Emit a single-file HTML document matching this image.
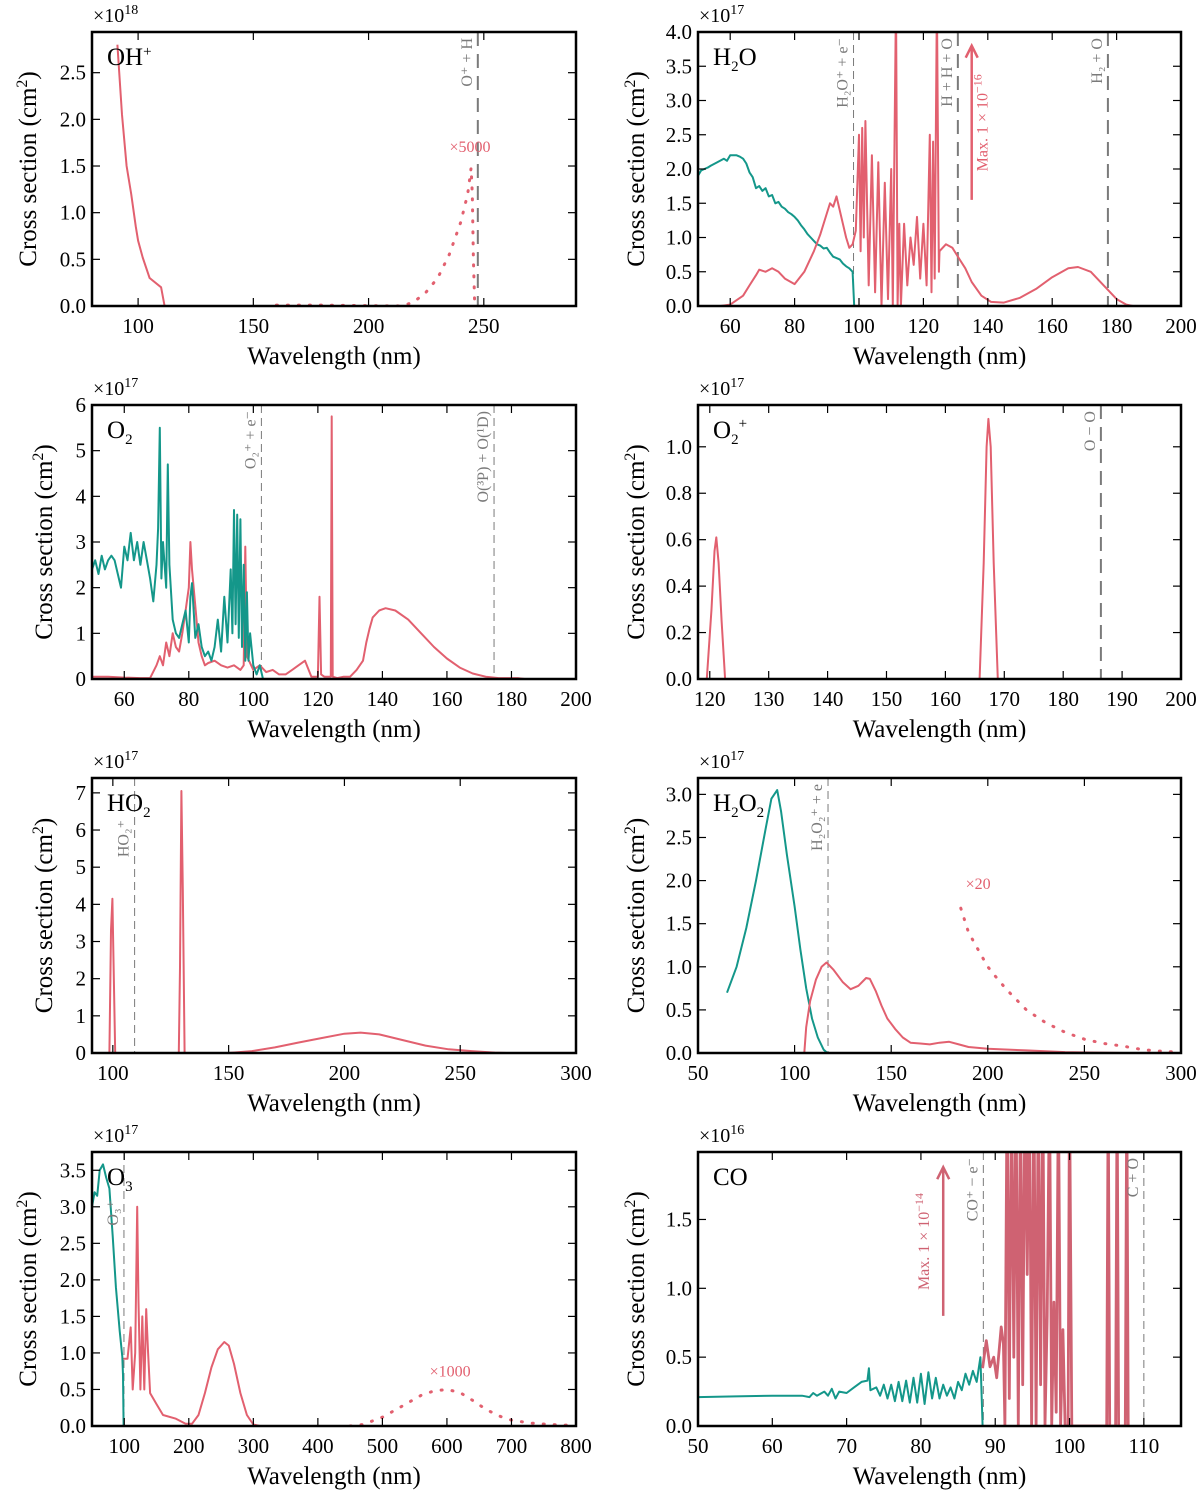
<!DOCTYPE html>
<html><head><meta charset="utf-8">
<style>
html,body{margin:0;padding:0;background:#fff;}
svg{display:block;font-family:"Liberation Serif","DejaVu Serif",serif;}
</style></head>
<body>
<svg id="fig" width="1200" height="1494" viewBox="0 0 1200 1494" xmlns="http://www.w3.org/2000/svg"></svg>
<script>
// ---- Data (values in units of the panel's multiplier) ----
// OH+
const ohpX = [91,93,95,97,99,100,102,105,110,111.5];
const ohpY = [2.8,2.05,1.5,1.2,0.85,0.7,0.52,0.3,0.2,0];
const ohpDotX = [160,170,180,215,220,225,230,235,240,243,244.5,245,245.5,246];
const ohpDotY = [0.01,0.01,0.01,0,0.05,0.15,0.3,0.55,0.9,1.2,1.48,1.2,0.5,0.05];
// H2O
const h2oIonX = [50,51,52,53,54,56,58,59,60,62,63,64,65,66,67,68,69,70,71,72,73,74,75,76,77,78,79,80,81,82,83,84,85,86,87,88,89,90,91,92,93,94,95,96,97,98,98.5];
const h2oIonY = [1.9,1.98,2.0,2.02,2.05,2.1,2.15,2.12,2.2,2.2,2.18,2.15,2.08,1.95,1.88,1.72,1.75,1.68,1.72,1.6,1.62,1.5,1.52,1.45,1.42,1.37,1.34,1.3,1.25,1.18,1.12,1.05,1.0,0.95,0.9,0.88,0.84,0.85,0.78,0.72,0.7,0.68,0.62,0.58,0.55,0.5,0];
const h2oDisX = [57,60,64,66,68,69,71,73,75,77,80,83,86,88,90,91,92,93,94,95,96,97,98,99,100,100.5,101,101.5,102,103,104,105,106,107,108,109,110,110.5,111.5,112,112.5,113,114,115,116,117,118,119,120,121,122,122.5,123,123.5,124.2,124.8,125,127,129,131,133,135,138,141,145,150,155,160,165,168,172,176,180,183,185];
const h2oDisY = [0,0.02,0.15,0.3,0.45,0.53,0.5,0.55,0.5,0.4,0.32,0.5,0.8,1.05,1.35,1.5,1.45,1.6,1.4,1.2,1.0,0.85,0.9,1.1,2.5,0.8,2.6,1.0,2.7,0.3,2.2,0.2,2.1,0,1.8,0.1,2.0,0,4.5,0,1.2,0,1.2,0.3,1.0,0.6,1.3,0.4,1.2,0.3,2.5,0.2,2.4,0.4,4.5,0.5,0.8,0.9,0.85,0.7,0.55,0.35,0.15,0.06,0.05,0.12,0.25,0.42,0.55,0.57,0.5,0.3,0.1,0.02,0];
// O2
const o2IonX = [50,51,52,53,54,55,56,57,58,59,60,61,62,63,64,65,66,67,68,69,70,70.5,71,71.5,72,73,73.5,74,75,76,77,78,79,80,80.5,81,82,83,84,85,86,87,88,89,90,91,92,93,93.5,94,94.5,95,95.5,96,96.5,97,97.5,98,98.5,99,100,101,102,103];
const o2IonY = [2.4,2.6,2.3,2.7,2.4,2.6,2.7,2.6,2.3,2.0,2.9,2.6,3.2,2.6,3.0,2.5,3.0,2.6,2.2,1.7,2.5,3.3,5.5,2.2,3.0,2.0,4.7,2.5,1.3,1.0,0.9,1.2,1.5,0.8,1.8,2.1,0.9,1.2,0.7,0.5,0.6,0.4,0.7,1.3,0.6,1.8,0.8,2.4,1.0,3.7,1.2,3.6,0.9,3.5,0.7,2.5,0.4,1.9,0.4,1.0,0.3,0.1,0.3,0];
const o2DisX = [50,55,60,65,68,70,71,72,73,74,75,76,77,78,79,80,80.5,81,82,83,84,85,86,88,90,92,94,96,97,97.5,98,100,102,104,106,108,110,112,114,116,118,120,120.5,121,122,124,124.3,124.6,126,128,130,132,134,135,136,137,139,141,144,148,152,156,160,164,168,172,176,180,182,184];
const o2DisY = [0.05,0.05,0.03,0.02,0.02,0.3,0.5,0.3,0.8,0.5,1.0,0.7,0.6,1.0,1.5,2.0,3.0,2.4,1.6,0.8,0.5,0.3,0.35,0.4,0.3,0.25,0.3,0.2,0.3,2.9,0.5,0.2,0.3,0.15,0.2,0.1,0.1,0.2,0.3,0.4,0.05,0.05,1.8,0.1,0.05,0.05,5.75,0.05,0.02,0.05,0.05,0.2,0.4,0.8,1.1,1.35,1.5,1.55,1.5,1.3,1.0,0.7,0.45,0.25,0.12,0.05,0.02,0.02,0.02,0];
// O2+
const o2pX = [119.5,120.3,120.8,121.1,121.5,122,122.6,165.8,166.5,167,167.3,167.7,168.2,168.9];
const o2pY = [0,0.3,0.55,0.61,0.5,0.25,0,0,0.5,1.0,1.12,1.0,0.5,0];
// HO2
const ho2X = [98.5,99.2,99.8,100.3,101,128.5,129,129.6,130.2,131,150,160,170,180,190,200,207,215,225,235,245,255,265,270];
const ho2Y = [0,3.3,4.15,2.5,0,0,2.3,7.05,4.4,0,0,0.05,0.15,0.28,0.4,0.52,0.55,0.5,0.35,0.2,0.1,0.05,0.01,0];
// H2O2
const h2o2IonX = [65,70,75,80,85,88,91,93,96,100,103,106,109,112,115,117];
const h2o2IonY = [0.7,1.0,1.45,2.0,2.6,2.95,3.05,2.8,2.3,1.7,1.2,0.75,0.4,0.18,0.04,0];
const h2o2DisX = [105,106,108,111,114,116.5,120,125,129,133,137,139,142,145,148,152,156,160,165,170,175,180,185,190,200,220,240,270];
const h2o2DisY = [0,0.3,0.6,0.85,1.0,1.05,0.97,0.82,0.74,0.78,0.87,0.86,0.72,0.55,0.4,0.28,0.18,0.12,0.11,0.1,0.12,0.13,0.1,0.07,0.05,0.03,0.01,0];
const h2o2DotX = [186,190,195,200,205,210,220,230,240,250,260,270,280,290,298];
const h2o2DotY = [1.68,1.4,1.2,1.0,0.86,0.73,0.5,0.35,0.24,0.16,0.11,0.08,0.04,0.02,0.01];
// O3
const o3IonX = [50,54,58,62,67,72,77,82,87,93,97,98,99];
const o3IonY = [3.0,3.2,3.15,3.5,3.58,3.4,3.25,2.6,1.9,1.3,0.95,0.7,0];
const o3DisX = [97,105,110,113,117,120,122,125,128,131,134,137,140,150,160,180,195,205,215,225,235,245,255,262,270,280,290,300,310];
const o3DisY = [0.92,0.92,1.35,0.5,1.0,3.0,1.7,0.5,1.5,0.5,1.6,1.0,0.45,0.3,0.15,0.1,0.03,0.03,0.15,0.45,0.8,1.05,1.15,1.1,0.85,0.45,0.15,0.02,0];
const o3DotX = [450,470,500,530,560,580,600,620,640,660,680,700,730,760,790];
const o3DotY = [0,0.02,0.12,0.27,0.42,0.48,0.5,0.46,0.35,0.23,0.14,0.08,0.04,0.02,0.01];
// CO
const coIonX = [50,55,60,64,65,65.5,66,67,67.5,68,68.5,69,70,71,72,72.8,73,73.2,74,74.5,75,75.5,76,76.5,77,77.5,78,78.5,79,79.5,80,80.5,81,81.5,82,82.5,83,83.5,84,84.5,85,85.5,86,86.5,87,87.5,88,88.3];
const coIonY = [0.21,0.215,0.22,0.22,0.21,0.24,0.22,0.25,0.22,0.27,0.2,0.25,0.24,0.28,0.32,0.33,0.42,0.26,0.28,0.22,0.3,0.2,0.3,0.18,0.32,0.18,0.33,0.17,0.35,0.17,0.38,0.16,0.39,0.2,0.35,0.2,0.3,0.22,0.28,0.2,0.32,0.26,0.38,0.3,0.4,0.32,0.5,0];
const coDisX = [88.3,88.8,89.3,89.8,90.2,90.8,91.1,91.3,91.6,91.9,92.2,92.5,92.8,93.1,93.4,93.7,94,94.3,94.6,94.9,95.2,95.5,95.8,96.1,96.4,96.7,97,97.3,97.6,97.9,98.2,98.5,98.8,99.1,99.4,99.8,100,100.3,105,105.2,105.4,106.2,106.4,106.6,107.5,107.7,107.9];
const coDisY = [0.42,0.62,0.43,0.5,0.35,0.72,0.6,0,2.5,0.2,2.5,0.5,2.5,0,2.5,0.3,2.5,1.1,2.5,0,2.5,0,2.5,0.3,2.5,0,0.8,2.5,0,0.9,0.1,2.5,0,0.7,0,0,2.5,0,0,2.5,0,0,2.5,0,0,2.5,0];

const RED = "#e2606f", TEAL = "#14978a", GRAY = "#7a7a7a", CORED = "#cf6272";
const NS = "http://www.w3.org/2000/svg";
const svg = document.getElementById('fig');
function mk(tag, attrs, parent){ const e=document.createElementNS(NS,tag); for(const k in attrs) e.setAttribute(k,attrs[k]); (parent||svg).appendChild(e); return e; }

function panel(c){
  const g = mk('g',{});
  
  
  const sx = v => c.L + (v - c.x0)/(c.x1 - c.x0)*(c.R - c.L);
  const sy = v => c.B - (v - c.y0)/(c.y1 - c.y0)*(c.B - c.T);
  const cid = 'clip-' + c.name;
  const cp = mk('clipPath',{id:cid}, g);
  mk('rect',{x:c.L,y:c.T,width:c.R-c.L,height:c.B-c.T}, cp);
  const plot = mk('g',{'clip-path':'url(#'+cid+')'}, g);
  (c.vlines||[]).forEach(v=>{
    const x = sx(v.x);
    const ln = mk('line',{x1:x,x2:x,y1:c.T,y2:c.B,stroke:GRAY,'stroke-width':v.thin?1:2,'stroke-dasharray':v.thin?'8,5':'14,8'}, plot);
    
    
    const t = mk('text',{x:0,y:0,transform:`translate(${x-(v.dx||6)},${c.T+(v.off||6)}) rotate(-90)`,'text-anchor':'end',fill:GRAY,'font-size':v.fs||16}, g);
    t.textContent = v.label;
    
    
  });
  c.series.forEach(s=>{
    const d = s.x.map((v,i)=>(i?'L':'M')+sx(v).toFixed(1)+','+sy(s.y[i]).toFixed(1)).join(' ');
    const p = mk('path',{d:d,fill:'none',stroke:s.color,'stroke-width':s.w||2,'stroke-linejoin':'round'}, plot);
    if(s.dot){ p.setAttribute('stroke-dasharray','1,10'); p.setAttribute('stroke-width',3); p.setAttribute('stroke-linecap','round'); }
    
    
  });
  if(c.arrow){
    const a=c.arrow, x=sx(a.x), y1=sy(a.y0), y2=sy(a.y1);
    const al = mk('line',{x1:x,x2:x,y1:y1,y2:y2+2,stroke:a.color,'stroke-width':2.5}, g);
    
    
    mk('path',{d:`M${x-6},${y2+12} L${x},${y2} L${x+6},${y2+12}`,fill:'none',stroke:a.color,'stroke-width':2.5}, g);
    const t = mk('text',{transform:`translate(${x-a.dx},${(y1+y2)/2}) rotate(-90)`,'text-anchor':'middle',fill:a.color,'font-size':16}, g);
    t.innerHTML = a.label;
    
    
  }
  (c.notes||[]).forEach(n=>{
    const t = mk('text',{x:sx(n.x),y:sy(n.y),'text-anchor':'middle',fill:RED,'font-size':16}, g);
    t.textContent = n.text;
    
    
  });
  c.xt.forEach(v=>{
    const x=sx(v);
    mk('line',{x1:x,x2:x,y1:c.B,y2:c.B-8,stroke:'#000','stroke-width':1.2}, g);
    mk('line',{x1:x,x2:x,y1:c.T,y2:c.T+8,stroke:'#000','stroke-width':1.2}, g);
    const t = mk('text',{x:x,y:c.B+27,'text-anchor':'middle','font-size':21}, g);
    t.textContent = String(v);
    
    
  });
  c.yt.forEach(v=>{
    const y=sy(v);
    mk('line',{x1:c.L,x2:c.L+8,y1:y,y2:y,stroke:'#000','stroke-width':1.2}, g);
    mk('line',{x1:c.R,x2:c.R-8,y1:y,y2:y,stroke:'#000','stroke-width':1.2}, g);
    const t = mk('text',{x:c.L-6,y:y+7,'text-anchor':'end','font-size':21}, g);
    t.textContent = c.yfmt ? v.toFixed(c.yfmt) : String(v);
    
    
  });
  const box = mk('rect',{x:c.L,y:c.T,width:c.R-c.L,height:c.B-c.T,fill:'none',stroke:'#000','stroke-width':2.5}, g);
  
  
  const title = mk('text',{x:c.L+15,y:c.T+33,'font-size':25}, g);
  title.innerHTML = c.title;
  
  
  const mult = mk('text',{x:c.L+1,y:c.T-10,'font-size':20}, g);
  mult.innerHTML = '×10<tspan dy="-8" font-size="14">' + c.exp + '</tspan>';
  
  
  const xl = mk('text',{x:(c.L+c.R)/2,y:c.B+58,'text-anchor':'middle','font-size':25}, g);
  xl.textContent = 'Wavelength (nm)';
  
  
  const yl = mk('text',{transform:`translate(${c.ylx},${(c.T+c.B)/2}) rotate(-90)`,'text-anchor':'middle','font-size':25}, g);
  yl.innerHTML = 'Cross section (cm<tspan dy="-9" font-size="16">2</tspan><tspan dy="9">)</tspan>';
  
  
}

const LL=92, LR=576, RL=698, RR=1181;
const rows=[[32,306],[405,679],[778,1053],[1152,1426]];

panel({name:'ohp',L:LL,R:LR,T:rows[0][0],B:rows[0][1],x0:80,x1:290,y0:0,y1:2.936,xt:[100,150,200,250],yt:[0,0.5,1,1.5,2,2.5],yfmt:1,title:'OH<tspan dy="-9" font-size="15">+</tspan>',exp:'18',ylx:36,
  vlines:[{x:247.4,label:'O⁺ + H'}],notes:[{x:244,y:1.65,text:'×5000'}],
  series:[{name:'ohp-dissociation',x:ohpX,y:ohpY,color:RED},{name:'ohp-scaled-dotted',x:ohpDotX,y:ohpDotY,color:RED,dot:true}]});
panel({name:'h2o',L:RL,R:RR,T:rows[0][0],B:rows[0][1],x0:50,x1:200,y0:0,y1:4,xt:[60,80,100,120,140,160,180,200],yt:[0,0.5,1,1.5,2,2.5,3,3.5,4],yfmt:1,title:'H<tspan dy="6" font-size="15">2</tspan><tspan dy="-6">O</tspan>',exp:'17',ylx:644,
  vlines:[{x:98.3,label:'H₂O⁺ + e⁻',thin:true},{x:130.7,label:'H + H + O'},{x:177.3,label:'H₂ + O'}],
  arrow:{x:135,y0:1.55,y1:3.8,color:RED,dx:-16,label:'Max. 1 × 10<tspan dy="-6" font-size="12">−16</tspan>'},
  series:[{name:'h2o-ionisation',x:h2oIonX,y:h2oIonY,color:TEAL},{name:'h2o-dissociation',x:h2oDisX,y:h2oDisY,color:RED}]});
panel({name:'o2',L:LL,R:LR,T:rows[1][0],B:rows[1][1],x0:50,x1:200,y0:0,y1:6,xt:[60,80,100,120,140,160,180,200],yt:[0,1,2,3,4,5,6],title:'O<tspan dy="6" font-size="15">2</tspan>',exp:'17',ylx:52,
  vlines:[{x:102.5,label:'O₂⁺ + e⁻',thin:true},{x:174.6,label:'O(³P) + O(¹D)',thin:true}],
  series:[{name:'o2-dissociation',x:o2DisX,y:o2DisY,color:RED},{name:'o2-ionisation',x:o2IonX,y:o2IonY,color:TEAL}]});
panel({name:'o2p',L:RL,R:RR,T:rows[1][0],B:rows[1][1],x0:118,x1:200,y0:0,y1:1.18,xt:[120,130,140,150,160,170,180,190,200],yt:[0,0.2,0.4,0.6,0.8,1.0],yfmt:1,title:'O<tspan dy="6" font-size="15">2</tspan><tspan dy="-16" font-size="15">+</tspan>',exp:'17',ylx:644,
  vlines:[{x:186.4,label:'O − O'}],
  series:[{name:'o2p-dissociation',x:o2pX,y:o2pY,color:RED}]});
panel({name:'ho2',L:LL,R:LR,T:rows[2][0],B:rows[2][1],x0:91,x1:300,y0:0,y1:7.4,xt:[100,150,200,250,300],yt:[0,1,2,3,4,5,6,7],title:'HO<tspan dy="6" font-size="15">2</tspan>',exp:'17',ylx:52,
  vlines:[{x:109.4,label:'HO₂⁺',thin:true,off:42}],
  series:[{name:'ho2-dissociation',x:ho2X,y:ho2Y,color:RED}]});
panel({name:'h2o2',L:RL,R:RR,T:rows[2][0],B:rows[2][1],x0:50,x1:300,y0:0,y1:3.19,xt:[50,100,150,200,250,300],yt:[0,0.5,1,1.5,2,2.5,3],yfmt:1,title:'H<tspan dy="6" font-size="15">2</tspan><tspan dy="-6">O</tspan><tspan dy="6" font-size="15">2</tspan>',exp:'17',ylx:644,
  vlines:[{x:117.3,label:'H₂O₂⁺ + e',thin:true}],notes:[{x:195,y:1.9,text:'×20'}],
  series:[{name:'h2o2-ionisation',x:h2o2IonX,y:h2o2IonY,color:TEAL},{name:'h2o2-dissociation',x:h2o2DisX,y:h2o2DisY,color:RED},{name:'h2o2-scaled-dotted',x:h2o2DotX,y:h2o2DotY,color:RED,dot:true}]});
panel({name:'o3',L:LL,R:LR,T:rows[3][0],B:rows[3][1],x0:50,x1:800,y0:0,y1:3.75,xt:[100,200,300,400,500,600,700,800],yt:[0,0.5,1,1.5,2,2.5,3,3.5],yfmt:1,title:'O<tspan dy="6" font-size="15">3</tspan>',exp:'17',ylx:36,
  vlines:[{x:99.5,label:'O₃⁺',thin:true,off:48}],notes:[{x:605,y:0.68,text:'×1000'}],
  series:[{name:'o3-dissociation',x:o3DisX,y:o3DisY,color:RED},{name:'o3-ionisation',x:o3IonX,y:o3IonY,color:TEAL},{name:'o3-scaled-dotted',x:o3DotX,y:o3DotY,color:RED,dot:true}]});
panel({name:'co',L:RL,R:RR,T:rows[3][0],B:rows[3][1],x0:50,x1:115,y0:0,y1:1.99,xt:[50,60,70,80,90,100,110],yt:[0,0.5,1,1.5],yfmt:1,title:'CO',exp:'16',ylx:644,
  vlines:[{x:88.4,label:'CO⁺ − e⁻',thin:true},{x:110,label:'C + O',thin:true}],
  arrow:{x:83,y0:0.8,y1:1.88,color:CORED,dx:14,label:'Max. 1 × 10<tspan dy="-6" font-size="12">−14</tspan>'},
  series:[{name:'co-ionisation',x:coIonX,y:coIonY,color:TEAL},{name:'co-dissociation',x:coDisX,y:coDisY,color:CORED,w:2.8}]});
</script>
</body></html>
